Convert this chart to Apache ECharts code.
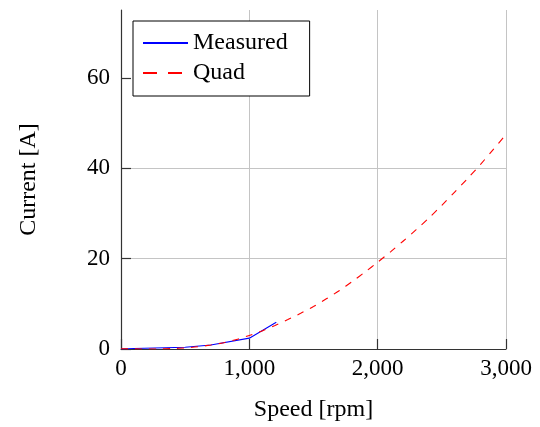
<!DOCTYPE html>
<html>
<head>
<meta charset="utf-8">
<script src="https://cdn.jsdelivr.net/npm/echarts@6/dist/echarts.min.js"></script>
<style>
  html, body { margin: 0; padding: 0; background: #fff; }
  #chart { width: 540px; height: 427px; }
</style>
</head>
<body>
<div id="chart"></div>
<script>
// Measured motor current against shaft speed
const measuredSpeed = [0, 100, 500, 700, 1000, 1210];
const measuredCurrent = [0, 0.1, 0.4, 0.9, 2.4, 5.9];

// Quadratic fit, sampled every 100 rpm
const quadSpeed = [0, 100, 200, 300, 400, 500, 600, 700, 800, 900, 1000,
  1100, 1200, 1300, 1400, 1500, 1600, 1700, 1800, 1900, 2000,
  2100, 2200, 2300, 2400, 2500, 2600, 2700, 2800, 2900, 3000];
const quadCurrent = [0.05, 0.02, 0, 0.02, 0.1, 0.25, 0.5, 0.9, 1.4, 2.1, 3.0,
  4.0, 5.2, 6.5, 7.9, 9.4, 11.1, 12.9, 14.9, 17.0, 19.2,
  21.5, 23.9, 26.4, 29.0, 31.8, 34.7, 37.7, 40.8, 44.1, 47.5];

const yTicks = [0, 20, 40, 60];

const FONT = "'Liberation Serif', 'DejaVu Serif', serif";
const zip = (xs, ys) => xs.map((x, i) => [x, ys[i]]);
const thousands = v => String(v).replace(/\B(?=(\d{3})+(?!\d))/g, ',');

const chart = echarts.init(document.getElementById('chart'), null, { renderer: 'canvas' });
chart.setOption({
  animation: false,
  backgroundColor: '#fff',
  textStyle: { fontFamily: FONT, color: '#000' },
  grid: { left: 121, right: 34, top: 10, bottom: 77, containLabel: false },
  legend: {
    left: 133, top: 21,
    orient: 'vertical',
    backgroundColor: '#fff',
    borderColor: '#000',
    borderWidth: 1,
    borderRadius: 0,
    padding: [10, 22, 11, 9],
    itemWidth: 45, itemHeight: 14,
    itemGap: 6,
    itemStyle: { opacity: 0 },
    textStyle: { fontFamily: FONT, fontSize: 24, lineHeight: 24, color: '#000' },
    data: [
      { name: 'Measured' },
      { name: 'Quad', lineStyle: { type: [14, 11] } }
    ]
  },
  xAxis: {
    type: 'value', min: 0, max: 3000, interval: 1000,
    name: 'Speed [rpm]', nameLocation: 'middle', nameGap: 49,
    nameTextStyle: { fontFamily: FONT, fontSize: 24, color: '#000' },
    axisLine: { show: true, onZero: false, lineStyle: { color: '#333', width: 1.2 } },
    axisTick: { show: true, inside: true, length: 10, lineStyle: { color: '#333', width: 1.2 } },
    axisLabel: { margin: 8, fontFamily: FONT, fontSize: 23, color: '#000', formatter: thousands },
    splitLine: { show: true, lineStyle: { color: '#c4c4c4', width: 1 } }
  },
  yAxis: {
    type: 'value', min: 0, max: 75, interval: 20,
    name: 'Current [A]', nameLocation: 'middle', nameGap: 80, nameRotate: 90,
    nameTextStyle: { fontFamily: FONT, fontSize: 24, color: '#000' },
    axisLine: { show: true, onZero: false, lineStyle: { color: '#333', width: 1.2 } },
    axisTick: { show: true, inside: true, length: 10, customValues: yTicks, lineStyle: { color: '#333', width: 1.2 } },
    axisLabel: { margin: 11, fontFamily: FONT, fontSize: 23, color: '#000', customValues: yTicks },
    splitLine: { show: true, showMaxLine: false, lineStyle: { color: '#c4c4c4', width: 1 } }
  },
  series: [
    {
      name: 'Measured', type: 'line', symbol: 'none', showSymbol: false,
      clip: true,
      lineStyle: { color: '#0000ff', width: 1.1 },
      itemStyle: { color: '#0000ff' },
      data: zip(measuredSpeed, measuredCurrent),
      z: 3
    },
    {
      name: 'Quad', type: 'line', symbol: 'none', showSymbol: false, smooth: 0.3,
      clip: true,
      lineStyle: { color: '#ff0000', width: 1.1, type: [7, 7] },
      itemStyle: { color: '#ff0000' },
      data: zip(quadSpeed, quadCurrent),
      z: 4
    }
  ]
});
</script>
</body>
</html>
